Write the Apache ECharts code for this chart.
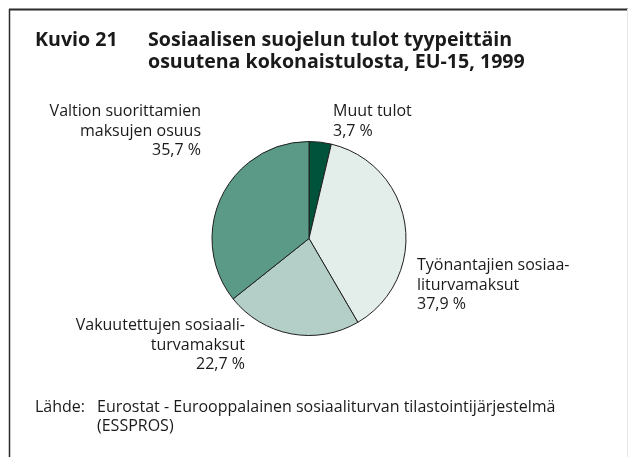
<!DOCTYPE html>
<html><head><meta charset="utf-8">
<script src="https://cdn.jsdelivr.net/npm/echarts@6/dist/echarts.min.js"></script>
<style>html,body{margin:0;padding:0;background:#fff}#c{width:629px;height:457px}</style>
</head><body><div id="c"></div>
<script>
var categories = ["Muut tulot", "Työnantajien sosiaa-\nliturvamaksut", "Vakuutettujen sosiaali-\nturvamaksut", "Valtion suorittamien\nmaksujen osuus"];
var values = [3.7, 37.9, 22.7, 35.7];
var valueLabels = ["3,7 %", "37,9 %", "22,7 %", "35,7 %"];
var colors = ["#00533b", "#e3eeea", "#b3cfc7", "#5a9a87"];
var labelPos = [[333, 102, "left"], [417, 256, "left"], [245, 316, "right"], [201, 102, "right"]];
var FONT = "Open Sans";
var chart = echarts.init(document.getElementById('c'), null, {renderer: 'canvas'});
chart.setOption({
  animation: false,
  graphic: [
    {type: 'line', shape: {x1: 9, y1: 9.5, x2: 628, y2: 9.5}, style: {stroke: '#2b2b2b', lineWidth: 2}},
    {type: 'line', shape: {x1: 9.5, y1: 9, x2: 9.5, y2: 457}, style: {stroke: '#2b2b2b', lineWidth: 1.5}},
    {type: 'line', shape: {x1: 627.5, y1: 9, x2: 627.5, y2: 457}, style: {stroke: '#e6e6e6', lineWidth: 1}},
    {type: 'text', left: 35, top: 29, style: {text: 'Kuvio 21', font: 'bold 19.6px "' + FONT + '"', fill: '#1a1a1a', lineHeight: 22}},
    {type: 'text', left: 148, top: 29, style: {text: 'Sosiaalisen suojelun tulot tyypeittäin\nosuutena kokonaistulosta, EU-15, 1999', font: 'bold 19.6px "' + FONT + '"', fill: '#1a1a1a', lineHeight: 22}},
    {type: 'text', left: 35, top: 398, style: {text: 'Lähde:', font: '16px "' + FONT + '"', fill: '#1a1a1a', lineHeight: 19}},
    {type: 'text', left: 97, top: 398, style: {text: 'Eurostat - Eurooppalainen sosiaaliturvan tilastointijärjestelmä\n(ESSPROS)', font: '16px "' + FONT + '"', fill: '#1a1a1a', lineHeight: 19}}
  ],
  series: [{
    type: 'pie',
    center: [309, 238.5],
    radius: [0, 97],
    startAngle: 90,
    clockwise: true,
    avoidLabelOverlap: false,
    itemStyle: {borderColor: '#1e1e1e', borderWidth: 1},
    label: {
      show: true,
      fontFamily: FONT,
      fontSize: 16,
      color: '#1a1a1a',
      lineHeight: 19.5,
      formatter: function (p) { return categories[p.dataIndex] + '\n' + valueLabels[p.dataIndex]; }
    },
    labelLine: {show: false},
    labelLayout: function (p) {
      var lp = labelPos[p.dataIndex];
      return {x: lp[0], y: lp[1], align: lp[2], verticalAlign: 'top'};
    },
    emphasis: {disabled: true},
    data: values.map(function (v, i) {
      return {value: v, name: categories[i], itemStyle: {color: colors[i]},
        label: {align: labelPos[i][2]}};
    })
  }]
});
</script></body></html>
